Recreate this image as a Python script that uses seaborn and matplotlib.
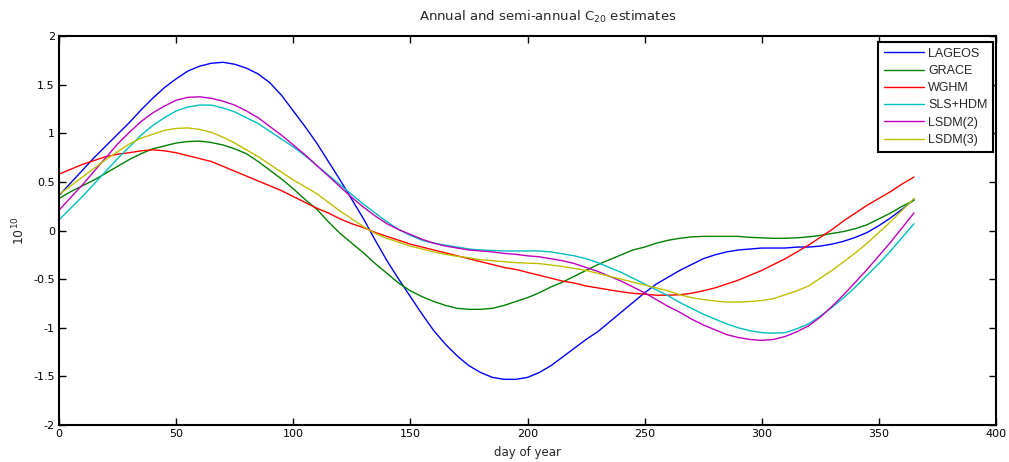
import numpy as np
import pandas as pd
import matplotlib
matplotlib.use("Agg")
import matplotlib.pyplot as plt
import seaborn as sns

days = [0, 5, 10, 15, 20, 25, 30, 35, 40, 45, 50, 55, 60, 65, 70, 75, 80, 85, 90, 95,
        100, 105, 110, 115, 120, 125, 130, 135, 140, 145, 150, 155, 160, 165, 170, 175,
        180, 185, 190, 195, 200, 205, 210, 215, 220, 225, 230, 235, 240, 245, 250, 255,
        260, 265, 270, 275, 280, 285, 290, 295, 300, 305, 310, 315, 320, 325, 330, 335,
        340, 345, 350, 355, 360, 365]

lageos = [0.36, 0.49, 0.62, 0.75, 0.87, 0.99, 1.11, 1.24, 1.36, 1.47, 1.56, 1.64, 1.69, 1.72,
          1.73, 1.71, 1.67, 1.61, 1.52, 1.39, 1.23, 1.07, 0.90, 0.71, 0.52, 0.32, 0.12, -0.10,
          -0.31, -0.50, -0.68, -0.86, -1.03, -1.17, -1.29, -1.39, -1.46, -1.51, -1.53, -1.53,
          -1.51, -1.46, -1.39, -1.30, -1.21, -1.12, -1.04, -0.94, -0.84, -0.74, -0.64, -0.55,
          -0.48, -0.41, -0.35, -0.29, -0.25, -0.22, -0.20, -0.19, -0.18, -0.18, -0.18, -0.17,
          -0.17, -0.16, -0.14, -0.11, -0.07, -0.02, 0.05, 0.13, 0.22, 0.32]
grace = [0.33, 0.40, 0.46, 0.52, 0.59, 0.66, 0.73, 0.79, 0.84, 0.87, 0.90, 0.915, 0.92, 0.905,
         0.88, 0.84, 0.79, 0.71, 0.62, 0.53, 0.43, 0.32, 0.22, 0.09, -0.03, -0.13, -0.23, -0.34,
         -0.44, -0.54, -0.62, -0.68, -0.73, -0.77, -0.80, -0.81, -0.81, -0.80, -0.77, -0.73,
         -0.69, -0.64, -0.58, -0.53, -0.47, -0.41, -0.35, -0.30, -0.25, -0.20, -0.17, -0.13,
         -0.10, -0.08, -0.065, -0.06, -0.06, -0.06, -0.06, -0.07, -0.075, -0.08, -0.08, -0.075,
         -0.065, -0.05, -0.03, -0.01, 0.02, 0.06, 0.12, 0.18, 0.25, 0.31]
wghm = [0.58, 0.63, 0.68, 0.72, 0.76, 0.785, 0.80, 0.82, 0.83, 0.82, 0.80, 0.77, 0.74, 0.71,
        0.66, 0.61, 0.56, 0.51, 0.46, 0.41, 0.35, 0.29, 0.23, 0.18, 0.12, 0.07, 0.03, -0.02,
        -0.06, -0.10, -0.14, -0.17, -0.20, -0.23, -0.26, -0.29, -0.32, -0.35, -0.38, -0.40,
        -0.43, -0.46, -0.49, -0.52, -0.54, -0.57, -0.59, -0.61, -0.63, -0.645, -0.655, -0.665,
        -0.665, -0.66, -0.645, -0.62, -0.59, -0.55, -0.51, -0.46, -0.41, -0.35, -0.29, -0.22,
        -0.15, -0.07, 0.01, 0.10, 0.18, 0.26, 0.33, 0.40, 0.48, 0.55]
sls_hdm = [0.11, 0.23, 0.35, 0.48, 0.61, 0.74, 0.86, 0.98, 1.08, 1.16, 1.23, 1.27, 1.29, 1.29,
           1.26, 1.22, 1.16, 1.10, 1.02, 0.94, 0.86, 0.77, 0.67, 0.57, 0.47, 0.37, 0.27, 0.18,
           0.09, 0.01, -0.05, -0.10, -0.13, -0.15, -0.17, -0.19, -0.20, -0.205, -0.21, -0.21,
           -0.21, -0.21, -0.22, -0.24, -0.26, -0.29, -0.33, -0.38, -0.43, -0.49, -0.55, -0.61,
           -0.67, -0.74, -0.80, -0.86, -0.91, -0.96, -1.00, -1.03, -1.05, -1.055, -1.05, -1.01,
           -0.96, -0.88, -0.79, -0.69, -0.58, -0.46, -0.34, -0.21, -0.07, 0.07]
lsdm2 = [0.21, 0.34, 0.47, 0.61, 0.75, 0.89, 1.01, 1.12, 1.21, 1.28, 1.34, 1.37, 1.375, 1.36,
         1.33, 1.29, 1.23, 1.16, 1.07, 0.98, 0.88, 0.78, 0.67, 0.56, 0.45, 0.34, 0.24, 0.15,
         0.07, 0.01, -0.04, -0.09, -0.13, -0.16, -0.18, -0.20, -0.21, -0.22, -0.235, -0.245,
         -0.26, -0.27, -0.29, -0.31, -0.34, -0.38, -0.42, -0.47, -0.52, -0.58, -0.64, -0.71,
         -0.78, -0.84, -0.91, -0.97, -1.02, -1.07, -1.10, -1.12, -1.13, -1.12, -1.09, -1.04,
         -0.98, -0.89, -0.78, -0.66, -0.53, -0.40, -0.26, -0.12, 0.03, 0.18]
lsdm3 = [0.37, 0.46, 0.55, 0.64, 0.73, 0.81, 0.89, 0.95, 0.99, 1.03, 1.05, 1.055, 1.04, 1.01,
         0.96, 0.90, 0.83, 0.76, 0.68, 0.60, 0.52, 0.45, 0.38, 0.29, 0.20, 0.12, 0.04, -0.03,
         -0.08, -0.12, -0.16, -0.19, -0.22, -0.245, -0.265, -0.28, -0.30, -0.31, -0.32, -0.33,
         -0.335, -0.34, -0.355, -0.37, -0.39, -0.41, -0.44, -0.47, -0.50, -0.53, -0.56, -0.59,
         -0.62, -0.66, -0.69, -0.71, -0.725, -0.735, -0.735, -0.73, -0.72, -0.70, -0.66, -0.62,
         -0.57, -0.49, -0.41, -0.32, -0.23, -0.13, -0.02, 0.09, 0.21, 0.33]

series_names = ["LAGEOS", "GRACE", "WGHM", "SLS+HDM", "LSDM(2)", "LSDM(3)"]
series_values = [lageos, grace, wghm, sls_hdm, lsdm2, lsdm3]
colors = ["#0000ff", "#008000", "#ff0000", "#00bfbf", "#bf00bf", "#bfbf00"]

x_ticks = [0, 50, 100, 150, 200, 250, 300, 350, 400]
y_ticks = [-2, -1.5, -1, -0.5, 0, 0.5, 1, 1.5, 2]
y_tick_labels = ["-2", "-1.5", "-1", "-0.5", "0", "0.5", "1", "1.5", "2"]

df = pd.concat([pd.DataFrame({"day": days, "value": v, "series": n})
                for n, v in zip(series_names, series_values)], ignore_index=True)

sns.set_theme(style="ticks")
plt.rcParams["font.family"] = ["DejaVu Sans"]

fig = plt.figure(figsize=(10.09, 4.62), dpi=100)
ax = fig.add_axes([0.0585, 0.080, 0.9286, 0.842])

sns.lineplot(data=df, x="day", y="value", hue="series", hue_order=series_names,
             palette=colors, linewidth=1.0, ax=ax, sort=True, estimator=None)

ax.set_xlim(0, 400)
ax.set_ylim(-2, 2)
ax.set_xticks(x_ticks)
ax.set_xticklabels([str(t) for t in x_ticks])
ax.set_yticks(y_ticks)
ax.set_yticklabels(y_tick_labels)
ax.tick_params(direction="in", length=5, width=1, top=True, right=True,
               labelsize=8, colors="black", pad=3)
for sp in ax.spines.values():
    sp.set_visible(True)
    sp.set_linewidth(1.5)
    sp.set_color("black")

ax.set_xlabel("day of year", fontsize=8.5, labelpad=5)
ax.set_ylabel(r"$10^{10}$", fontsize=9, labelpad=4)
ax.set_title(r"Annual and semi-annual C$_{20}$ estimates", fontsize=9.5, pad=11, x=0.522)

leg = ax.legend(loc="upper right", bbox_to_anchor=(993 / 1009, (462 - 42) / 462),
                bbox_transform=fig.transFigure, fontsize=8.5, frameon=True, fancybox=False,
                handlelength=3.2, borderaxespad=0.0, labelspacing=0.42,
                handletextpad=0.35, borderpad=0.45,
                prop={"family": "Liberation Sans", "size": 9})
leg.get_frame().set_edgecolor("black")
leg.get_frame().set_linewidth(1.5)
leg.get_frame().set_alpha(1)

fig.savefig("out.png", dpi=100, facecolor="white")
